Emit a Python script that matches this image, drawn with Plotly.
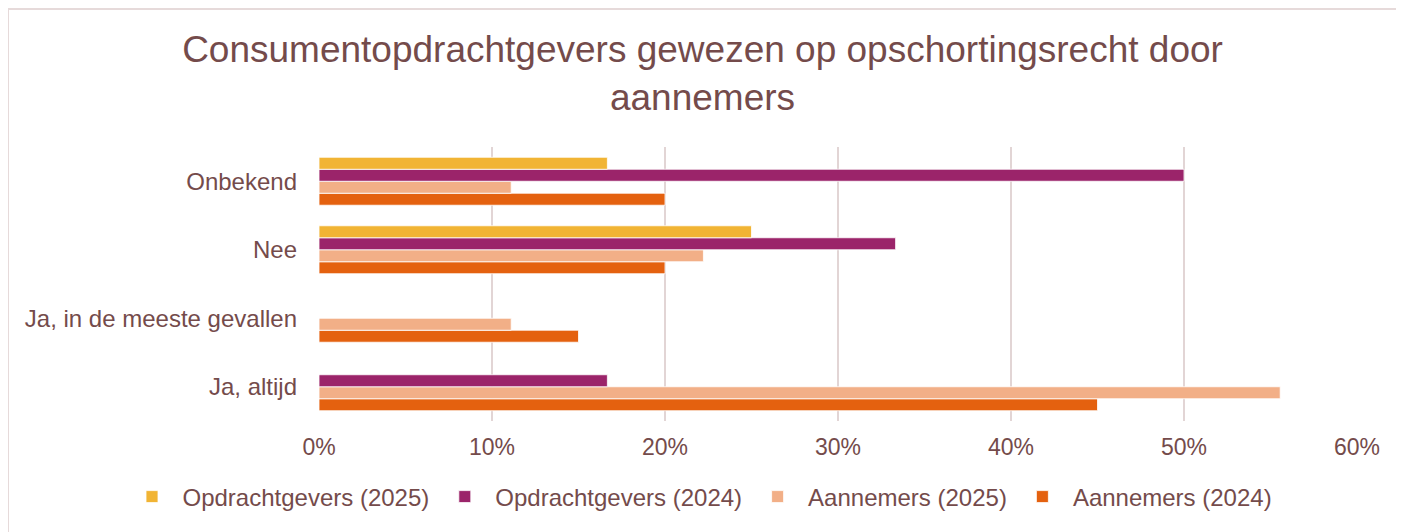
import plotly.graph_objects as go

# categories, bottom to top as plotly draws them
categories = ["Ja, altijd", "Ja, in de meeste gevallen", "Nee", "Onbekend"]

opdr_2025 = [0, 0, 0.25, 0.1667]
opdr_2024 = [0.1667, 0, 0.3333, 0.50]
aann_2025 = [0.5556, 0.1111, 0.2222, 0.1111]
aann_2024 = [0.45, 0.15, 0.20, 0.20]

series_names = ["Opdrachtgevers (2025)", "Opdrachtgevers (2024)",
                "Aannemers (2025)", "Aannemers (2024)"]
series_values = [opdr_2025, opdr_2024, aann_2025, aann_2024]
series_colors = ["#F1B434", "#9B246A", "#F2AF87", "#E4610F"]

x_ticks = [0, 0.1, 0.2, 0.3, 0.4, 0.5, 0.6]

text_color = "#744B4B"
grid_color = "#E2D5D5"
font_family = "Liberation Sans, Arial, sans-serif"

fig = go.Figure()

# added in reverse so the first series sits on top of each group
for name, vals, col in reversed(list(zip(series_names, series_values, series_colors))):
    fig.add_trace(go.Bar(
        y=categories,
        x=vals,
        name=name,
        orientation='h',
        marker=dict(color=col, line=dict(color='white', width=0.8)),
        hovertemplate='<b>%{y}</b><br>' + name + ': %{x:.0%}<extra></extra>'
    ))

# page body has an 8px margin, so the figure is sized to fill the rest
W, H = 1396, 524
ml, mr, mt, mb = 311, 47, 139, 111
pw = W - ml - mr
ph = H - mt - mb


def px_x(v):
    return (v - ml) / pw


def px_y(v):
    return (ph - (v - mt)) / ph


fig.update_layout(
    width=W, height=H,
    barmode='group',
    bargap=0.3,
    bargroupgap=0,
    plot_bgcolor='white',
    paper_bgcolor='white',
    font=dict(family=font_family, color=text_color, size=24),
    title=dict(
        text="Consumentopdrachtgevers gewezen op opschortingsrecht door<br>aannemers",
        x=0.4975, xanchor='center', xref='container',
        y=1 - 54 / H, yanchor='middle', yref='container',
        font=dict(size=37, color=text_color, family=font_family)
    ),
    margin=dict(l=ml, r=mr, t=mt, b=mb, autoexpand=False),
    xaxis=dict(
        range=[0, 0.6],
        tickvals=x_ticks,
        tickformat='.0%',
        showgrid=True,
        gridcolor=grid_color,
        gridwidth=2,
        zeroline=False,
        showline=False,
        ticklabelstandoff=10,
        tickfont=dict(size=23, color=text_color)
    ),
    yaxis=dict(
        range=[-0.5, 3.5],
        showgrid=False,
        zeroline=False,
        showline=False,
        ticklabelstandoff=21,
        tickfont=dict(size=24, color=text_color)
    ),
    legend=dict(
        orientation='h',
        traceorder='reversed',
        xref='paper', yref='paper',
        x=px_x(113.5), xanchor='left',
        y=px_y(489), yanchor='middle',
        font=dict(size=24, color=text_color),
        itemwidth=51
    ),
    shapes=[
        dict(type='line', xref='paper', yref='paper',
             x0=px_x(0), x1=px_x(W + 20), y0=px_y(1), y1=px_y(1),
             line=dict(color='#E6DADA', width=2), layer='below'),
        dict(type='line', xref='paper', yref='paper',
             x0=px_x(0), x1=px_x(0), y0=px_y(1), y1=px_y(H + 20),
             line=dict(color='#E6DADA', width=2), layer='below'),
    ],
    showlegend=True
)

fig.write_html("out.html")
